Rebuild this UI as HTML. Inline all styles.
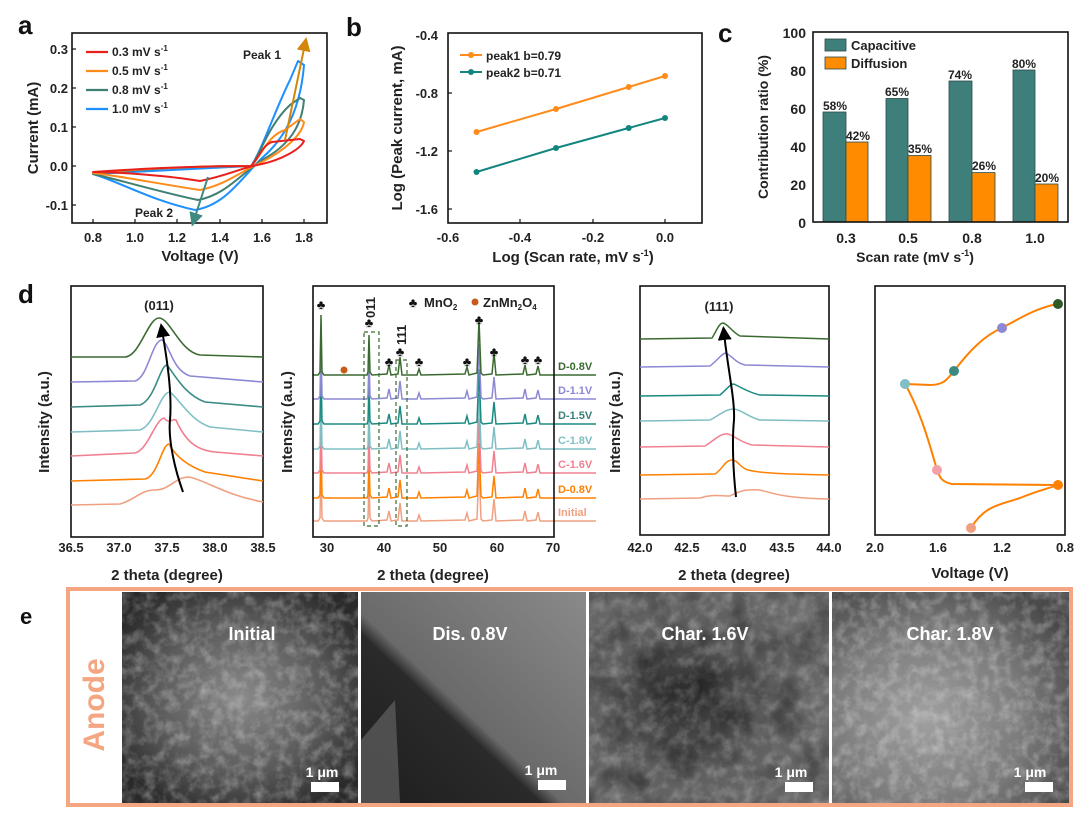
<!DOCTYPE html>
<html><head><meta charset="utf-8"><style>
body{margin:0;background:#fff}
svg{display:block;font-family:"Liberation Sans",Arial,sans-serif;font-weight:bold}
.t{font-size:13px;fill:#222}
.ti{font-size:15px;fill:#222}
.pl{font-size:26px;fill:#111}
.ax{fill:none;stroke:#111;stroke-width:1.6}
</style></head><body>
<svg width="1078" height="818" viewBox="0 0 1078 818" xmlns="http://www.w3.org/2000/svg">
<defs>
<marker id="ah" markerWidth="7" markerHeight="7" refX="3.5" refY="3.5" orient="auto"><path d="M0 0 L7 3.5 L0 7 Z" fill="context-stroke"/></marker>
<path id="xrd" fill="none" d="M313 0 L318 0 L320 -3 L321 -60 L322 -3 L324 0 L343 0 L367 0 L368 -3 L369 -40 L370 -3 L372 0 L387 -1 L389 -10 L391 0 L398 -1 L400 -18 L402 0 L417 0 L419 -6 L421 0 L465 -1 L467 -8 L469 0 L477 -2 L479 -55 L481 -2 L483 0 L492 -1 L494 -22 L496 0 L523 -1 L525 -10 L527 0 L536 -1 L538 -9 L540 0 L554 0 L596 0"/>
<filter id="noise" x="0" y="0" width="100%" height="100%">
<feTurbulence type="fractalNoise" baseFrequency="0.09" numOctaves="3" seed="4"/>
<feColorMatrix type="matrix" values="0 0 0 0 1  0 0 0 0 1  0 0 0 0 1  1.4 0 0 0 -0.55"/>
</filter>
<filter id="noise2" x="0" y="0" width="100%" height="100%">
<feTurbulence type="fractalNoise" baseFrequency="0.03" numOctaves="2" seed="9"/>
<feColorMatrix type="matrix" values="0 0 0 0 0  0 0 0 0 0  0 0 0 0 0  1.6 0 0 0 -0.7"/>
</filter>
</defs>

<!-- panel labels -->
<text x="18" y="34" class="pl">a</text>
<text x="346" y="36" class="pl">b</text>
<text x="718" y="42" class="pl">c</text>
<text x="18" y="303" class="pl">d</text>
<text x="20" y="624" class="pl" style="font-size:22px">e</text>

<!-- Panel a -->
<g>
<rect x="72" y="33" width="255" height="190" class="ax"/>
<g stroke="#111" stroke-width="1.2">
<line x1="93" y1="223" x2="93" y2="219"/><line x1="135" y1="223" x2="135" y2="219"/><line x1="177" y1="223" x2="177" y2="219"/><line x1="220" y1="223" x2="220" y2="219"/><line x1="262" y1="223" x2="262" y2="219"/><line x1="304" y1="223" x2="304" y2="219"/>
<line x1="72" y1="49" x2="76" y2="49"/><line x1="72" y1="88" x2="76" y2="88"/><line x1="72" y1="127" x2="76" y2="127"/><line x1="72" y1="166" x2="76" y2="166"/><line x1="72" y1="205" x2="76" y2="205"/>
</g>
<g stroke-width="2" fill="none" stroke-linejoin="round">
<path d="M93 174 L251 166 C262 150 275 110 290 80 L298 61 L304 65 C302 90 295 130 262 158 C240 180 225 205 195 210 C150 200 120 182 93 174Z" stroke="#1e90ff"/>
<path d="M93 174 C150 168 200 166 251 166 C258 160 268 125 290 105 L300 98 L304 100 C302 125 290 145 262 160 C240 175 225 195 198 200 C160 192 120 180 93 174Z" stroke="#3f7f74"/>
<path d="M93 173 C150 168 200 166 251 166 C262 155 268 135 285 130 L300 119 L304 122 C302 135 285 150 262 162 C240 172 225 185 200 190 C160 184 120 176 93 173Z" stroke="#ff8c1a"/>
<path d="M93 172 C150 168 200 166 251 166 C258 160 262 145 272 142 L300 139 L304 141 C300 150 280 160 262 164 C240 168 230 175 200 181 C170 176 120 172 93 172Z" stroke="#e8201c"/>
</g>
<line x1="285" y1="140" x2="305" y2="44" stroke="#d4860a" stroke-width="2" marker-end="url(#ah)"/>
<line x1="208" y1="177" x2="194" y2="220" stroke="#3f8a80" stroke-width="2" marker-end="url(#ah)"/>
<g stroke-width="2.2">
<line x1="86" y1="52" x2="108" y2="52" stroke="#e8201c"/>
<line x1="86" y1="71" x2="108" y2="71" stroke="#ff8c1a"/>
<line x1="86" y1="90" x2="108" y2="90" stroke="#3f7f74"/>
<line x1="86" y1="109" x2="108" y2="109" stroke="#1e90ff"/>
</g>
<g class="t" style="font-size:12px">
<text x="112" y="56">0.3 mV s<tspan dy="-5" font-size="8">-1</tspan></text>
<text x="112" y="75">0.5 mV s<tspan dy="-5" font-size="8">-1</tspan></text>
<text x="112" y="94">0.8 mV s<tspan dy="-5" font-size="8">-1</tspan></text>
<text x="112" y="113">1.0 mV s<tspan dy="-5" font-size="8">-1</tspan></text>
<text x="243" y="59">Peak 1</text>
<text x="135" y="217">Peak 2</text>
</g>
<g class="t" text-anchor="end">
<text x="68" y="54">0.3</text><text x="68" y="93">0.2</text><text x="68" y="132">0.1</text><text x="68" y="171">0.0</text><text x="68" y="210">-0.1</text>
</g>
<g class="t" text-anchor="middle">
<text x="93" y="242">0.8</text><text x="135" y="242">1.0</text><text x="177" y="242">1.2</text><text x="220" y="242">1.4</text><text x="262" y="242">1.6</text><text x="304" y="242">1.8</text>
<text x="200" y="261" class="ti">Voltage (V)</text>
<text transform="translate(38,128) rotate(-90)" class="ti">Current (mA)</text>
</g>
</g>

<!-- Panel b -->
<g>
<rect x="448" y="33" width="254" height="190" class="ax"/>
<g stroke="#111" stroke-width="1.2">
<line x1="520" y1="223" x2="520" y2="219"/><line x1="593" y1="223" x2="593" y2="219"/><line x1="665" y1="223" x2="665" y2="219"/>
<line x1="448" y1="93" x2="452" y2="93"/><line x1="448" y1="151" x2="452" y2="151"/><line x1="448" y1="209" x2="452" y2="209"/>
</g>
<polyline points="476.5,132 556,109 628.7,87 665,76" fill="none" stroke="#ff8c1a" stroke-width="2"/>
<polyline points="476.5,172 556,148 628.7,128 665,118" fill="none" stroke="#13857f" stroke-width="2"/>
<g fill="#ff8c1a"><circle cx="476.5" cy="132" r="3"/><circle cx="556" cy="109" r="3"/><circle cx="628.7" cy="87" r="3"/><circle cx="665" cy="76" r="3"/></g>
<g fill="#13857f"><circle cx="476.5" cy="172" r="3"/><circle cx="556" cy="148" r="3"/><circle cx="628.7" cy="128" r="3"/><circle cx="665" cy="118" r="3"/></g>
<line x1="460" y1="55" x2="482" y2="55" stroke="#ff8c1a" stroke-width="2"/><circle cx="471" cy="55" r="3" fill="#ff8c1a"/>
<line x1="460" y1="72" x2="482" y2="72" stroke="#13857f" stroke-width="2"/><circle cx="471" cy="72" r="3" fill="#13857f"/>
<text x="486" y="60" class="t" style="font-size:12px">peak1 b=0.79</text>
<text x="486" y="77" class="t" style="font-size:12px">peak2 b=0.71</text>
<g class="t" text-anchor="end">
<text x="438" y="40">-0.4</text><text x="438" y="98">-0.8</text><text x="438" y="156">-1.2</text><text x="438" y="214">-1.6</text>
</g>
<g class="t" text-anchor="middle">
<text x="448" y="242">-0.6</text><text x="520" y="242">-0.4</text><text x="593" y="242">-0.2</text><text x="665" y="242">0.0</text>
<text x="573" y="262" class="ti">Log (Scan rate, mV s<tspan dy="-6" font-size="9">-1</tspan><tspan dy="6">)</tspan></text>
<text transform="translate(402,128) rotate(-90)" class="ti">Log (Peak current, mA)</text>
</g>
</g>

<!-- Panel c -->
<g>
<g stroke="#2a4a48" stroke-width="0.8">
<rect x="823" y="112" width="23" height="110" fill="#3e7f7c"/>
<rect x="846" y="142" width="22" height="80" fill="#ff8c00"/>
<rect x="886" y="98.5" width="22" height="123.5" fill="#3e7f7c"/>
<rect x="908" y="155.5" width="23" height="66.5" fill="#ff8c00"/>
<rect x="949" y="81" width="23" height="141" fill="#3e7f7c"/>
<rect x="972" y="172.6" width="23" height="49.4" fill="#ff8c00"/>
<rect x="1013" y="70" width="22" height="152" fill="#3e7f7c"/>
<rect x="1035" y="184" width="23" height="38" fill="#ff8c00"/>
<rect x="825" y="39" width="21" height="12" fill="#3e7f7c"/>
<rect x="825" y="57" width="21" height="12" fill="#ff8c00"/>
</g>
<rect x="813" y="32" width="255" height="190" class="ax"/>
<text x="851" y="50" class="t">Capacitive</text>
<text x="851" y="68" class="t">Diffusion</text>
<g class="t" text-anchor="middle" style="font-size:12px">
<text x="835" y="110">58%</text><text x="858" y="140">42%</text>
<text x="897" y="96">65%</text><text x="920" y="153">35%</text>
<text x="960" y="79">74%</text><text x="984" y="170">26%</text>
<text x="1024" y="68">80%</text><text x="1047" y="182">20%</text>
</g>
<g class="ti" text-anchor="end" style="font-size:14px">
<text x="806" y="38">100</text><text x="806" y="76">80</text><text x="806" y="114">60</text><text x="806" y="152">40</text><text x="806" y="190">20</text><text x="806" y="228">0</text>
</g>
<g class="ti" text-anchor="middle" style="font-size:14px">
<text x="846" y="243">0.3</text><text x="908" y="243">0.5</text><text x="972" y="243">0.8</text><text x="1035" y="243">1.0</text>
<text x="915" y="262">Scan rate (mV s<tspan dy="-6" font-size="9">-1</tspan><tspan dy="6">)</tspan></text>
<text transform="translate(768,127) rotate(-90)">Contribution ratio (%)</text>
</g>
</g>

<!-- Panel d1 -->
<g>
<rect x="71" y="286" width="192" height="251" class="ax"/>
<g fill="none" stroke-width="1.6">
<path d="M71 505 L120 504 C135 500 140 490 155 490 C170 490 175 477 189 477 C205 480 225 495 263 502" stroke="#f0a080"/>
<path d="M71 481 L145 479 C158 476 162 444 169 444 C175 455 185 465 205 472 L263 481" stroke="#ff8000"/>
<path d="M71 456 L135 453 C148 450 155 420 164 418 C170 425 172 418 176 420 C185 440 195 450 215 452 L263 456" stroke="#f08090"/>
<path d="M71 432 L140 430 C155 425 160 392 170 392 C180 400 190 420 210 427 L263 432" stroke="#7fbfc4"/>
<path d="M71 407 L140 405 C155 400 160 365 167 365 C175 375 185 395 205 402 L263 407" stroke="#3a8a82"/>
<path d="M71 382 L135 381 C148 378 152 340 162 340 C170 345 172 370 190 376 L263 382" stroke="#8c88d4"/>
<path d="M71 357 L125 357 C140 356 148 318 159 318 C170 318 180 352 200 355 L263 357" stroke="#3a6a30"/>
</g>
<path d="M183 492 C175 470 168 440 170 420 C172 395 168 365 162 330" fill="none" stroke="#000" stroke-width="2" marker-end="url(#ah)"/>
<text x="159" y="310" class="t" text-anchor="middle">(011)</text>
<g class="t" text-anchor="middle">
<text x="71" y="552">36.5</text><text x="119" y="552">37.0</text><text x="167" y="552">37.5</text><text x="215" y="552">38.0</text><text x="263" y="552">38.5</text>
<text x="167" y="580" class="ti">2 theta (degree)</text>
<text transform="translate(49,422) rotate(-90)" class="ti">Intensity (a.u.)</text>
</g>
</g>

<!-- Panel d2 -->
<g>
<g stroke-width="1.5">
<use href="#xrd" stroke="#f0a080" transform="translate(0,521)"/>
<use href="#xrd" stroke="#ff8000" transform="translate(0,498)"/>
<use href="#xrd" stroke="#f08090" transform="translate(0,473)"/>
<use href="#xrd" stroke="#7fbfc4" transform="translate(0,449)"/>
<use href="#xrd" stroke="#1a8a80" transform="translate(0,424)"/>
<use href="#xrd" stroke="#8c88d4" transform="translate(0,399)"/>
<use href="#xrd" stroke="#3a6a30" transform="translate(0,375)"/>
</g>
<rect x="313" y="286" width="241" height="251" class="ax"/>
<g fill="none" stroke="#3a6a30" stroke-width="1.2" stroke-dasharray="4,3">
<rect x="364" y="332" width="15" height="194"/>
<rect x="396" y="360" width="11" height="166"/>
</g>
<g font-size="13" fill="#111" text-anchor="middle">
<text x="321" y="309">♣</text><text x="369" y="327">♣</text><text x="389" y="366">♣</text><text x="400" y="356">♣</text><text x="419" y="366">♣</text><text x="467" y="366">♣</text><text x="479" y="324">♣</text><text x="494" y="356">♣</text><text x="525" y="364">♣</text><text x="538" y="364">♣</text>
<text x="413" y="307">♣</text>
</g>
<circle cx="344" cy="370" r="3.5" fill="#c85a1a"/>
<circle cx="475" cy="302" r="3.5" fill="#c85a1a"/>
<text x="424" y="307" class="t">MnO<tspan dy="3" font-size="8">2</tspan></text>
<text x="483" y="307" class="t">ZnMn<tspan dy="3" font-size="8">2</tspan><tspan dy="-3">O</tspan><tspan dy="3" font-size="8">4</tspan></text>
<text transform="translate(375,318) rotate(-90)" class="t">011</text>
<text transform="translate(406,345) rotate(-90)" class="t">111</text>
<g class="t" style="font-size:11px">
<text x="558" y="370" fill="#3a6a30">D-0.8V</text>
<text x="558" y="394" fill="#8c88d4">D-1.1V</text>
<text x="558" y="419" fill="#3a7f7a">D-1.5V</text>
<text x="558" y="444" fill="#7fbfc4">C-1.8V</text>
<text x="558" y="468" fill="#f08090">C-1.6V</text>
<text x="558" y="493" fill="#ff8000">D-0.8V</text>
<text x="558" y="516" fill="#f0a080">Initial</text>
</g>
<g class="t" text-anchor="middle">
<text x="327" y="552">30</text><text x="384" y="552">40</text><text x="440" y="552">50</text><text x="497" y="552">60</text><text x="553" y="552">70</text>
<text x="433" y="580" class="ti">2 theta (degree)</text>
<text transform="translate(292,422) rotate(-90)" class="ti">Intensity (a.u.)</text>
</g>
</g>

<!-- Panel d3 -->
<g>
<rect x="640" y="286" width="189" height="249" class="ax"/>
<g fill="none" stroke-width="1.5">
<path d="M640 499 L700 498 C712 494 720 496 730 496 C740 491 745 489 760 490 C775 494 785 498 829 499" stroke="#f0a080"/>
<path d="M640 475 L715 474 C722 470 725 460 732 460 C738 460 740 468 748 470 C760 473 780 474 829 475" stroke="#ff8000"/>
<path d="M640 447 L705 446 C715 440 720 433 728 434 C735 436 740 442 752 445 L829 447" stroke="#f08090"/>
<path d="M640 421 L710 420 C720 415 725 409 734 409 C742 410 750 418 760 420 L829 421" stroke="#7fbfc4"/>
<path d="M640 396 L720 395 C726 390 730 384 734 384 C740 387 750 393 760 395 L829 396" stroke="#1a8a80"/>
<path d="M640 367 L710 366 C718 360 722 353 726 353 C732 356 736 363 745 365 L829 367" stroke="#8c88d4"/>
<path d="M640 339 L712 338 C716 332 719 323 723 323 C728 324 732 332 740 336 L829 339" stroke="#3a6a30"/>
</g>
<path d="M736 497 C733 470 732 440 734 420 C735 400 728 370 724 333" fill="none" stroke="#000" stroke-width="2" marker-end="url(#ah)"/>
<text x="719" y="311" class="t" text-anchor="middle">(111)</text>
<g class="t" text-anchor="middle">
<text x="640" y="552">42.0</text><text x="687" y="552">42.5</text><text x="734" y="552">43.0</text><text x="782" y="552">43.5</text><text x="829" y="552">44.0</text>
<text x="734" y="580" class="ti">2 theta (degree)</text>
<text transform="translate(620,422) rotate(-90)" class="ti">Intensity (a.u.)</text>
</g>
</g>

<!-- Panel d4 -->
<g>
<rect x="875" y="286" width="190" height="249" class="ax"/>
<path d="M971 528 C985 505 1000 505 1020 498 C1040 490 1050 488 1058 485 L952 484 C942 482 940 478 937 470 C930 445 920 410 905 384 L930 385 C945 385 948 378 954 371 C970 350 985 335 1002 328 C1025 315 1040 307 1058 304" fill="none" stroke="#ff8000" stroke-width="2"/>
<circle cx="1058" cy="304" r="5" fill="#2f5a25"/>
<circle cx="1002" cy="328" r="5" fill="#8c88d4"/>
<circle cx="954" cy="371" r="5" fill="#3a8a82"/>
<circle cx="905" cy="384" r="5" fill="#7fbfc4"/>
<circle cx="937" cy="470" r="5" fill="#f4a0a8"/>
<circle cx="1058" cy="485" r="5" fill="#ff8000"/>
<circle cx="971" cy="528" r="5" fill="#f0a080"/>
<g class="t" text-anchor="middle">
<text x="875" y="552">2.0</text><text x="938" y="552">1.6</text><text x="1002" y="552">1.2</text><text x="1065" y="552">0.8</text>
<text x="970" y="578" class="ti">Voltage (V)</text>
</g>
</g>

<!-- Panel e -->
<defs>
<radialGradient id="g1" cx="0.5" cy="0.5" r="0.6"><stop offset="0" stop-color="#8a8a8a"/><stop offset="0.6" stop-color="#5a5a5a"/><stop offset="1" stop-color="#2a2a2a"/></radialGradient>
<linearGradient id="g2" x1="1" y1="0" x2="0" y2="1"><stop offset="0" stop-color="#8a8a8a"/><stop offset="0.55" stop-color="#6a6a6a"/><stop offset="0.6" stop-color="#2a2a2a"/><stop offset="1" stop-color="#1e1e1e"/></linearGradient>
<radialGradient id="g3" cx="0.4" cy="0.5" r="0.7"><stop offset="0" stop-color="#2a2a2a"/><stop offset="0.5" stop-color="#5e5e5e"/><stop offset="1" stop-color="#6e6e6e"/></radialGradient>
<radialGradient id="g4" cx="0.4" cy="0.6" r="0.7"><stop offset="0" stop-color="#a0a0a0"/><stop offset="0.6" stop-color="#7a7a7a"/><stop offset="1" stop-color="#4a4a4a"/></radialGradient>
</defs>
<rect x="68" y="589" width="1003" height="216" fill="#fff" stroke="#f4a582" stroke-width="4"/>
<rect x="122" y="592" width="236" height="211" fill="url(#g1)"/>
<rect x="361" y="592" width="225" height="211" fill="url(#g2)"/>
<rect x="589" y="592" width="240" height="211" fill="url(#g3)"/>
<rect x="832" y="592" width="237" height="211" fill="url(#g4)"/>
<rect x="122" y="592" width="236" height="211" filter="url(#noise)" opacity="0.45"/>
<rect x="589" y="592" width="240" height="211" filter="url(#noise)" opacity="0.35"/>
<rect x="832" y="592" width="237" height="211" filter="url(#noise)" opacity="0.45"/>
<rect x="589" y="592" width="240" height="211" filter="url(#noise2)" opacity="0.6"/>
<path d="M361 740 L395 700 L400 803 L361 803 Z" fill="#5a5a5a" opacity="0.8"/>
<text transform="translate(104,705) rotate(-90)" text-anchor="middle" fill="#f4a582" style="font-size:30px">Anode</text>
<g fill="#fff" text-anchor="middle" style="font-size:18px">
<text x="252" y="640">Initial</text>
<text x="470" y="640">Dis. 0.8V</text>
<text x="705" y="640">Char. 1.6V</text>
<text x="950" y="640">Char. 1.8V</text>
</g>
<g fill="#fff" style="font-size:14px" text-anchor="middle">
<text x="322" y="777">1 μm</text><text x="541" y="775">1 μm</text><text x="791" y="777">1 μm</text><text x="1030" y="777">1 μm</text>
</g>
<g fill="#fff">
<rect x="311" y="782" width="28" height="10"/><rect x="538" y="780" width="28" height="10"/><rect x="785" y="782" width="28" height="10"/><rect x="1025" y="782" width="28" height="10"/>
</g>
</svg>
</body></html>
